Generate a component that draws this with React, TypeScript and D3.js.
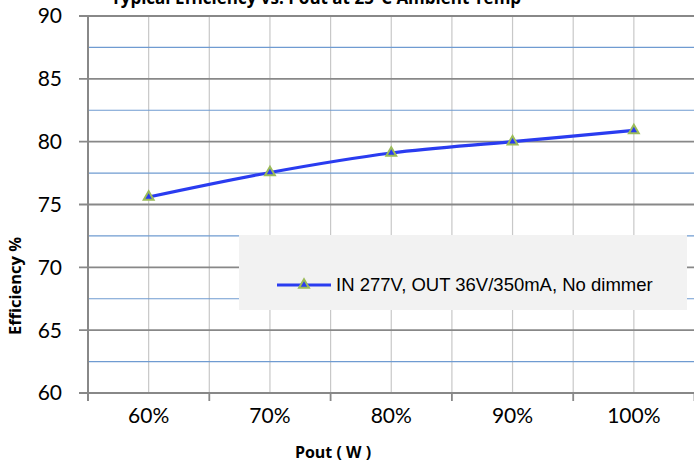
import React from "react";
import * as d3 from "d3";

const categories = ["60%", "70%", "80%", "90%", "100%"];
const efficiency = [75.6, 77.55, 79.1, 80.0, 80.9];
const yTicks = [60, 65, 70, 75, 80, 85, 90];
const yMinorTicks = [62.5, 67.5, 72.5, 77.5, 82.5, 87.5];
const seriesName = "IN 277V, OUT 36V/350mA, No dimmer";
const titleText = "Typical Efficiency vs. Pout at 25°C Ambient Temp";
const xTitle = "Pout ( W )";
const yTitle = "Efficiency %";

const W = 694;
const H = 474;
const left = 88;
const right = 694.5;
const top = 16;
const bottom = 393;

export default function App() {
  const x = d3.scaleBand<string>().domain(categories).range([left, right]).padding(0);
  const y = d3.scaleLinear().domain([60, 90]).range([bottom, top]);
  const cx = (c: string) => (x(c) ?? 0) + x.bandwidth() / 2;

  const line = d3
    .line<number>()
    .x((_, i) => cx(categories[i]))
    .y((d) => y(d))
    .curve(d3.curveCardinal.tension(0));

  const vLines: number[] = [];
  categories.forEach((c) => {
    vLines.push(cx(c));
    const b = (x(c) ?? 0) + x.bandwidth();
    if (b < right - 1) vLines.push(b);
  });
  const xTickPos = categories.map((c) => x(c) ?? 0).concat([right]);

  const tri = d3.symbol().type(d3.symbolTriangle).size(42)();
  const labelFont = "Lato, 'Open Sans', sans-serif";

  return (
    <svg width={W} height={H} style={{ position: "absolute", left: 0, top: 0, background: "#fff" }}>
      <rect x={0} y={0} width={W} height={H} fill="#fff" />
      <text x={316} y={4} textAnchor="middle" fontFamily="'Open Sans', sans-serif" fontWeight="bold" fontSize={17} fill="#000">
        {titleText}
      </text>
      {/* vertical gridlines */}
      {vLines.map((v, i) => (
        <line key={"v" + i} x1={v} x2={v} y1={top} y2={bottom} stroke="#c8c8c8" strokeWidth={1.2} />
      ))}
      {/* minor gridlines */}
      {yMinorTicks.map((t) => (
        <line key={"m" + t} x1={left} x2={right} y1={y(t)} y2={y(t)} stroke="#6f9bd1" strokeWidth={1.2} />
      ))}
      {/* major gridlines */}
      {yTicks.map((t) => (
        <line key={"M" + t} x1={left - 9} x2={right} y1={y(t)} y2={y(t)} stroke="#888" strokeWidth={1.8} />
      ))}
      {/* axes */}
      <line x1={left} x2={left} y1={top} y2={bottom + 8} stroke="#888" strokeWidth={2} />
      <line x1={left} x2={right} y1={bottom} y2={bottom} stroke="#888" strokeWidth={2} />
      {xTickPos.map((p, i) => (
        <line key={"xt" + i} x1={p} x2={p} y1={bottom} y2={bottom + 8} stroke="#888" strokeWidth={1.8} />
      ))}
      {/* y tick labels */}
      {yTicks.map((t) => (
        <text key={"yl" + t} x={62} y={y(t)} dy="0.35em" textAnchor="end" fontFamily={labelFont} fontSize={21} fill="#000">
          {t}
        </text>
      ))}
      {/* x tick labels */}
      {categories.map((c) => (
        <text key={"xl" + c} x={cx(c)} y={416} dy="0.35em" textAnchor="middle" fontFamily={labelFont} fontSize={21} fill="#000">
          {c}
        </text>
      ))}
      <text x={333} y={452} dy="0.35em" textAnchor="middle" fontFamily="'Open Sans', sans-serif" fontWeight="bold" fontSize={16} fill="#000">
        {xTitle}
      </text>
      <text transform={`translate(15,286) rotate(-90)`} dy="0.35em" textAnchor="middle" fontFamily="'Open Sans', sans-serif" fontWeight="bold" fontSize={16.5} fill="#000">
        {yTitle}
      </text>
      {/* series */}
      <path d={line(efficiency) ?? ""} fill="none" stroke="#2a3cf0" strokeWidth={3.2} />
      {efficiency.map((v, i) => (
        <path key={"p" + i} d={tri ?? ""} transform={`translate(${cx(categories[i])},${y(v)})`} fill="#2a3cf0" stroke="#9bbb59" strokeWidth={2} />
      ))}
      {/* legend */}
      <rect x={239} y={235} width={448} height={75} fill="#f2f2f2" />
      <line x1={277} x2={331} y1={285} y2={285} stroke="#2a3cf0" strokeWidth={3} />
      <path d={tri ?? ""} transform={`translate(304,285)`} fill="#2a3cf0" stroke="#9bbb59" strokeWidth={2} />
      <text x={336} y={285} dy="0.35em" fontFamily="'Liberation Sans', Arial, sans-serif" fontSize={18.5} fill="#000">
        {seriesName}
      </text>
    </svg>
  );
}
